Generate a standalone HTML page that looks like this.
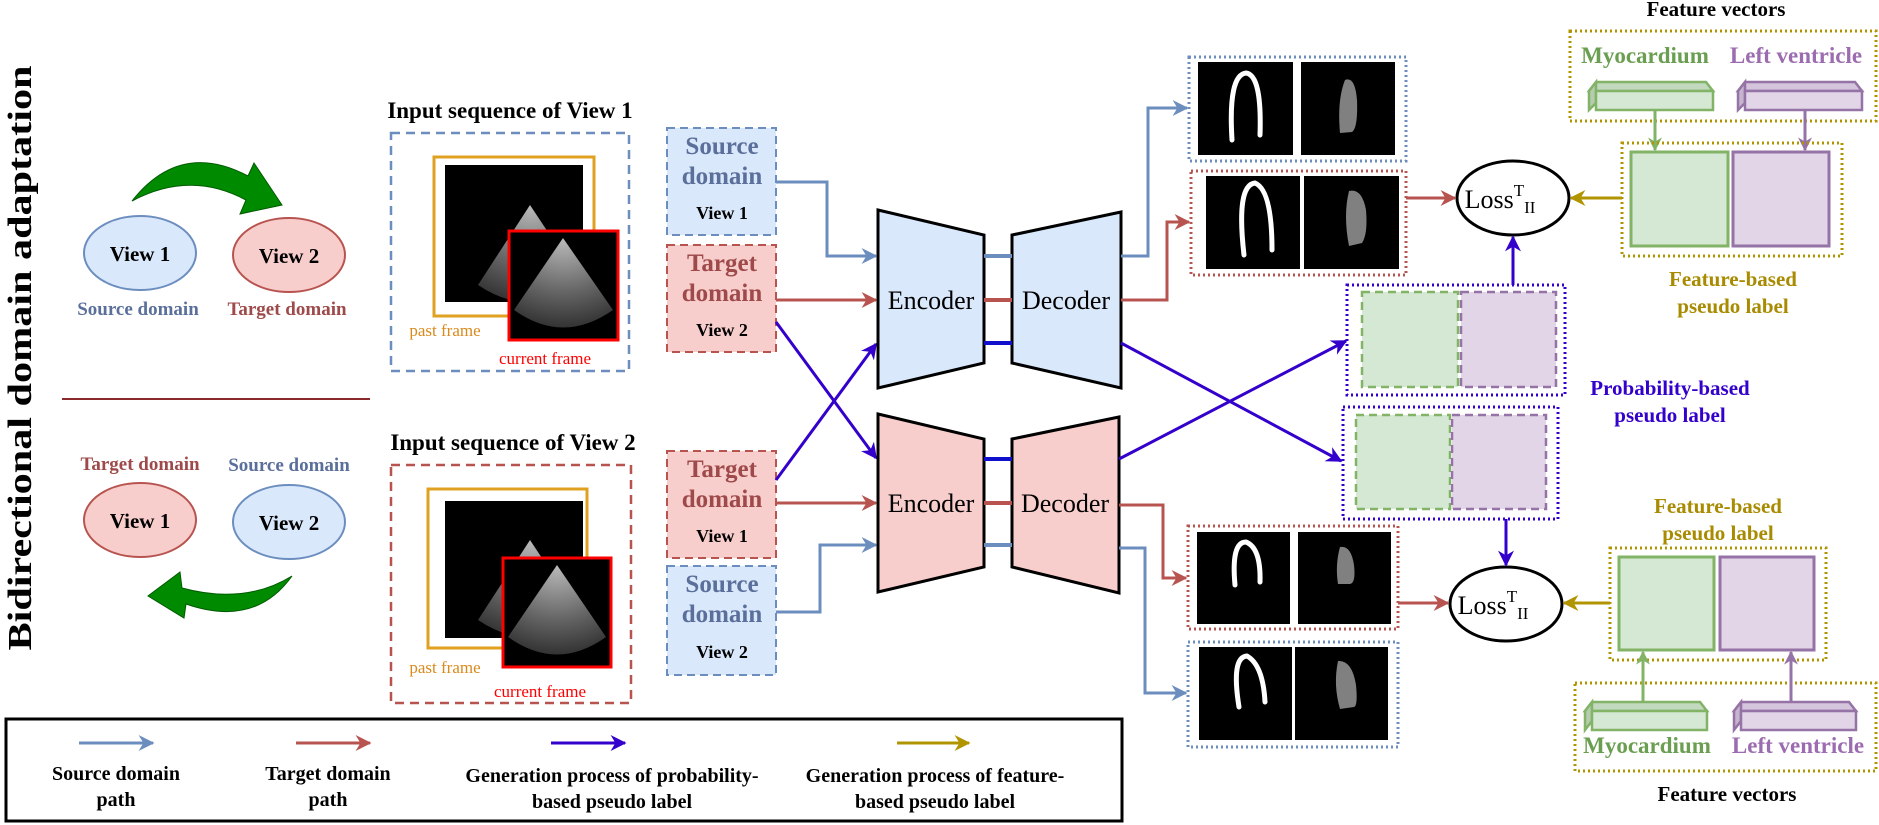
<!DOCTYPE html>
<html><head><meta charset="utf-8"><style>
html,body{margin:0;padding:0;background:#fff;}
svg{display:block;font-family:"Liberation Serif",serif;}
.b{font-weight:bold;}
</style></head><body>
<svg width="1879" height="825" viewBox="0 0 1879 825">
<defs>
<marker id="mb" markerWidth="8" markerHeight="8" refX="6" refY="4" orient="auto" markerUnits="userSpaceOnUse"><path d="M0,0 L8,4 L0,8 L2,4 Z" fill="#6c8ebf" transform="scale(1.8) translate(-2,-2)"/></marker>
<marker id="ah-b" viewBox="0 0 10 10" refX="9" refY="5" markerWidth="16" markerHeight="16" orient="auto" markerUnits="userSpaceOnUse"><path d="M0,0 L10,5 L0,10 L3,5 Z" fill="#6c8ebf"/></marker>
<marker id="ah-r" viewBox="0 0 10 10" refX="9" refY="5" markerWidth="16" markerHeight="16" orient="auto" markerUnits="userSpaceOnUse"><path d="M0,0 L10,5 L0,10 L3,5 Z" fill="#b85450"/></marker>
<marker id="ah-d" viewBox="0 0 10 10" refX="9" refY="5" markerWidth="16" markerHeight="16" orient="auto" markerUnits="userSpaceOnUse"><path d="M0,0 L10,5 L0,10 L3,5 Z" fill="#3300cc"/></marker>
<marker id="ah-g" viewBox="0 0 10 10" refX="9" refY="5" markerWidth="16" markerHeight="16" orient="auto" markerUnits="userSpaceOnUse"><path d="M0,0 L10,5 L0,10 L3,5 Z" fill="#b09500"/></marker>
<marker id="ah-gr" viewBox="0 0 10 10" refX="9" refY="5" markerWidth="14" markerHeight="14" orient="auto" markerUnits="userSpaceOnUse"><path d="M0,0 L10,5 L0,10 L3,5 Z" fill="#82b366"/></marker>
<marker id="ah-pu" viewBox="0 0 10 10" refX="9" refY="5" markerWidth="14" markerHeight="14" orient="auto" markerUnits="userSpaceOnUse"><path d="M0,0 L10,5 L0,10 L3,5 Z" fill="#9673a6"/></marker>
<radialGradient id="cone" cx="50%" cy="0%" r="100%"><stop offset="0" stop-color="#bbb"/><stop offset="0.6" stop-color="#666"/><stop offset="1" stop-color="#333"/></radialGradient>
</defs>

<!-- Left vertical title -->
<text class="b" transform="translate(31,358) rotate(-90)" text-anchor="middle" font-size="34" textLength="585" lengthAdjust="spacingAndGlyphs">Bidirectional domain adaptation</text>

<!-- top views -->
<path d="M132,201 Q180,140 248,176 L254,163 L282,205 L240,214 L246,200 Q190,170 132,201 Z" fill="#008a00" stroke="#005a00" stroke-width="1"/>
<ellipse cx="140" cy="253" rx="56" ry="37" fill="#dae8fc" stroke="#6c8ebf" stroke-width="2"/>
<text class="b" x="140" y="261" text-anchor="middle" font-size="21">View 1</text>
<ellipse cx="289" cy="255" rx="56" ry="37" fill="#f8cecc" stroke="#b85450" stroke-width="2"/>
<text class="b" x="289" y="263" text-anchor="middle" font-size="21">View 2</text>
<text class="b" x="138" y="315" text-anchor="middle" font-size="19" fill="#5a6f9a">Source domain</text>
<text class="b" x="287" y="315" text-anchor="middle" font-size="19" fill="#9e4a4a">Target domain</text>
<line x1="62" y1="399" x2="370" y2="399" stroke="#8b2a2a" stroke-width="2"/>
<text class="b" x="140" y="470" text-anchor="middle" font-size="19" fill="#9e4a4a">Target domain</text>
<text class="b" x="289" y="471" text-anchor="middle" font-size="19" fill="#5a6f9a">Source domain</text>
<ellipse cx="140" cy="520" rx="56" ry="37" fill="#f8cecc" stroke="#b85450" stroke-width="2"/>
<text class="b" x="140" y="528" text-anchor="middle" font-size="21">View 1</text>
<ellipse cx="289" cy="522" rx="56" ry="37" fill="#dae8fc" stroke="#6c8ebf" stroke-width="2"/>
<text class="b" x="289" y="530" text-anchor="middle" font-size="21">View 2</text>
<path d="M292,576 Q255,628 186,604 L184,618 L148,596 L180,572 L182,588 Q245,605 292,576 Z" fill="#008a00" stroke="#005a00" stroke-width="1"/>

<!-- Input sequence View 1 -->
<text class="b" x="510" y="118" text-anchor="middle" font-size="23">Input sequence of View 1</text>
<rect x="391" y="133" width="238" height="238" fill="none" stroke="#6c8ebf" stroke-width="2.5" stroke-dasharray="9,6"/>
<rect x="434" y="157" width="160" height="159" fill="none" stroke="#e0a020" stroke-width="3"/>
<g>
<rect x="462" y="165" width="121" height="110" fill="#000"/>
<rect x="458" y="172" width="121" height="110" fill="#000"/>
<rect x="454" y="179" width="121" height="110" fill="#000"/>
<rect x="450" y="186" width="121" height="110" fill="#000"/>
<rect x="445" y="165" width="110" height="137" fill="#000"/>
<path d="M530,205 L478,285 Q530,320 583,285 Z" fill="url(#cone)"/>
</g>
<rect x="509" y="231" width="109" height="109" fill="#000" stroke="#ff0000" stroke-width="3"/>
<path d="M563,238 L514,310 Q563,345 613,310 Z" fill="url(#cone)"/>
<text x="445" y="336" text-anchor="middle" font-size="17" fill="#d98a1c">past frame</text>
<text x="545" y="364" text-anchor="middle" font-size="17" fill="#ff0000">current frame</text>

<!-- Input sequence View 2 -->
<text class="b" x="513" y="450" text-anchor="middle" font-size="23">Input sequence of View 2</text>
<rect x="391" y="465" width="240" height="238" fill="none" stroke="#b85450" stroke-width="2.5" stroke-dasharray="9,6"/>
<rect x="428" y="489" width="159" height="159" fill="none" stroke="#e0a020" stroke-width="3"/>
<g>
<rect x="462" y="501" width="121" height="110" fill="#000"/>
<rect x="458" y="508" width="121" height="110" fill="#000"/>
<rect x="454" y="515" width="121" height="110" fill="#000"/>
<rect x="450" y="522" width="121" height="110" fill="#000"/>
<rect x="445" y="501" width="110" height="137" fill="#000"/>
<path d="M530,540 L478,620 Q530,655 583,620 Z" fill="url(#cone)"/>
</g>
<rect x="503" y="558" width="108" height="109" fill="#000" stroke="#ff0000" stroke-width="3"/>
<path d="M557,565 L508,637 Q557,672 606,637 Z" fill="url(#cone)"/>
<text x="445" y="673" text-anchor="middle" font-size="17" fill="#d98a1c">past frame</text>
<text x="540" y="697" text-anchor="middle" font-size="17" fill="#ff0000">current frame</text>

<!-- domain boxes -->
<g>
<rect x="667" y="128" width="109" height="107" fill="#dae8fc" stroke="#6c8ebf" stroke-width="2" stroke-dasharray="8,5"/>
<text class="b" x="722" y="154" text-anchor="middle" font-size="25" fill="#5a6f9a">Source</text>
<text class="b" x="722" y="184" text-anchor="middle" font-size="25" fill="#5a6f9a">domain</text>
<text class="b" x="722" y="219" text-anchor="middle" font-size="18">View 1</text>
</g>
<g>
<rect x="667" y="245" width="109" height="107" fill="#f8cecc" stroke="#b85450" stroke-width="2" stroke-dasharray="8,5"/>
<text class="b" x="722" y="271" text-anchor="middle" font-size="25" fill="#9e4a4a">Target</text>
<text class="b" x="722" y="301" text-anchor="middle" font-size="25" fill="#9e4a4a">domain</text>
<text class="b" x="722" y="336" text-anchor="middle" font-size="18">View 2</text>
</g>
<g>
<rect x="667" y="451" width="109" height="107" fill="#f8cecc" stroke="#b85450" stroke-width="2" stroke-dasharray="8,5"/>
<text class="b" x="722" y="477" text-anchor="middle" font-size="25" fill="#9e4a4a">Target</text>
<text class="b" x="722" y="507" text-anchor="middle" font-size="25" fill="#9e4a4a">domain</text>
<text class="b" x="722" y="542" text-anchor="middle" font-size="18">View 1</text>
</g>
<g>
<rect x="667" y="566" width="109" height="109" fill="#dae8fc" stroke="#6c8ebf" stroke-width="2" stroke-dasharray="8,5"/>
<text class="b" x="722" y="592" text-anchor="middle" font-size="25" fill="#5a6f9a">Source</text>
<text class="b" x="722" y="622" text-anchor="middle" font-size="25" fill="#5a6f9a">domain</text>
<text class="b" x="722" y="658" text-anchor="middle" font-size="18">View 2</text>
</g>

<!-- input arrows -->
<g fill="none" stroke-width="3">
<path d="M776,182 H827 V256 H876" stroke="#6c8ebf" marker-end="url(#ah-b)"/>
<path d="M776,300 H876" stroke="#b85450" marker-end="url(#ah-r)"/>
<path d="M776,322 L876,458" stroke="#3300cc" marker-end="url(#ah-d)"/>
<path d="M776,480 L876,344" stroke="#3300cc" marker-end="url(#ah-d)"/>
<path d="M776,503 H876" stroke="#b85450" marker-end="url(#ah-r)"/>
<path d="M776,612 H820 V545 H876" stroke="#6c8ebf" marker-end="url(#ah-b)"/>
</g>

<!-- encoder/decoder top -->
<polygon points="878,210 984,235 984,363 878,388" fill="#dae8fc" stroke="#000" stroke-width="3"/>
<text x="931" y="309" text-anchor="middle" font-size="26">Encoder</text>
<polygon points="1012,235 1121,212 1121,388 1012,363" fill="#dae8fc" stroke="#000" stroke-width="3"/>
<text x="1066" y="309" text-anchor="middle" font-size="26">Decoder</text>
<line x1="984" y1="256" x2="1012" y2="256" stroke="#6c8ebf" stroke-width="4"/>
<line x1="984" y1="300" x2="1012" y2="300" stroke="#b85450" stroke-width="4"/>
<line x1="984" y1="343" x2="1012" y2="343" stroke="#1010cc" stroke-width="4"/>
<!-- encoder/decoder bottom -->
<polygon points="878,414 984,439 984,567 878,592" fill="#f8cecc" stroke="#000" stroke-width="3"/>
<text x="931" y="512" text-anchor="middle" font-size="26">Encoder</text>
<polygon points="1012,439 1119,417 1119,593 1012,567" fill="#f8cecc" stroke="#000" stroke-width="3"/>
<text x="1065" y="512" text-anchor="middle" font-size="26">Decoder</text>
<line x1="984" y1="459" x2="1012" y2="459" stroke="#1010cc" stroke-width="4"/>
<line x1="984" y1="503" x2="1012" y2="503" stroke="#b85450" stroke-width="4"/>
<line x1="984" y1="545" x2="1012" y2="545" stroke="#6c8ebf" stroke-width="4"/>

<!-- decoder outputs -->
<g fill="none" stroke-width="3">
<path d="M1121,256 H1148 V108 H1187" stroke="#6c8ebf" marker-end="url(#ah-b)"/>
<path d="M1121,300 H1167 V222 H1189" stroke="#b85450" marker-end="url(#ah-r)"/>
<path d="M1121,343 L1341,461" stroke="#3300cc" marker-end="url(#ah-d)"/>
<path d="M1119,459 L1346,341" stroke="#3300cc" marker-end="url(#ah-d)"/>
<path d="M1119,505 H1163 V578 H1186" stroke="#b85450" marker-end="url(#ah-r)"/>
<path d="M1119,548 H1145 V693 H1186" stroke="#6c8ebf" marker-end="url(#ah-b)"/>
</g>

<!-- seg boxes -->
<g>
<rect x="1189" y="57" width="217" height="104" fill="none" stroke="#6c8ebf" stroke-width="3" stroke-dasharray="2,3"/>
<rect x="1198" y="62" width="95" height="93" fill="#000"/><rect x="1301" y="62" width="94" height="93" fill="#000"/>
<path d="M1232,140 Q1228,75 1246,73 Q1262,75 1260,135" fill="none" stroke="#fff" stroke-width="5" stroke-linecap="round"/>
<path d="M1345,80 Q1355,76 1357,100 Q1358,128 1352,132 L1340,133 Q1337,100 1345,80 Z" fill="#808080"/>
</g>
<g>
<rect x="1191" y="171" width="215" height="104" fill="none" stroke="#b85450" stroke-width="3" stroke-dasharray="2,3"/>
<rect x="1206" y="176" width="94" height="93" fill="#000"/><rect x="1304" y="176" width="95" height="93" fill="#000"/>
<path d="M1244,255 Q1236,185 1255,183 Q1272,190 1272,250" fill="none" stroke="#fff" stroke-width="5" stroke-linecap="round"/>
<path d="M1349,191 Q1362,188 1366,210 Q1368,234 1362,243 L1349,246 Q1343,215 1349,191 Z" fill="#808080"/>
</g>
<g>
<rect x="1188" y="526" width="210" height="103" fill="none" stroke="#b85450" stroke-width="3" stroke-dasharray="2,3"/>
<rect x="1197" y="532" width="93" height="92" fill="#000"/><rect x="1298" y="532" width="93" height="92" fill="#000"/>
<path d="M1235,585 Q1231,542 1246,542 Q1261,548 1260,582" fill="none" stroke="#fff" stroke-width="5" stroke-linecap="round"/>
<path d="M1340,547 Q1351,545 1354,565 Q1356,583 1350,584 L1338,584 Q1335,565 1340,547 Z" fill="#808080"/>
</g>
<g>
<rect x="1188" y="642" width="210" height="105" fill="none" stroke="#6c8ebf" stroke-width="3" stroke-dasharray="2,3"/>
<rect x="1199" y="647" width="93" height="93" fill="#000"/><rect x="1295" y="647" width="93" height="93" fill="#000"/>
<path d="M1239,707 Q1231,657 1247,656 Q1263,665 1265,702" fill="none" stroke="#fff" stroke-width="5" stroke-linecap="round"/>
<path d="M1338,661 Q1352,660 1356,685 Q1358,706 1354,707 L1340,709 Q1333,685 1338,661 Z" fill="#808080"/>
</g>

<!-- prob boxes -->
<g>
<rect x="1347" y="285" width="218" height="110" fill="none" stroke="#3300cc" stroke-width="3" stroke-dasharray="2,3"/>
<rect x="1362" y="292" width="96" height="95" fill="#d5e8d4" stroke="#82b366" stroke-width="2.5" stroke-dasharray="8,5"/>
<rect x="1461" y="292" width="95" height="95" fill="#e1d5e7" stroke="#9673a6" stroke-width="2.5" stroke-dasharray="8,5"/>
</g>
<g>
<rect x="1343" y="407" width="215" height="112" fill="none" stroke="#3300cc" stroke-width="3" stroke-dasharray="2,3"/>
<rect x="1356" y="415" width="94" height="94" fill="#d5e8d4" stroke="#82b366" stroke-width="2.5" stroke-dasharray="8,5"/>
<rect x="1452" y="415" width="94" height="94" fill="#e1d5e7" stroke="#9673a6" stroke-width="2.5" stroke-dasharray="8,5"/>
</g>
<text x="1670" y="395" text-anchor="middle" font-size="21" fill="#3300cc" class="b">Probability-based</text>
<text x="1670" y="422" text-anchor="middle" font-size="21" fill="#3300cc" class="b">pseudo label</text>

<!-- loss -->
<ellipse cx="1513" cy="198" rx="56" ry="37" fill="#fff" stroke="#000" stroke-width="3"/>
<text x="1500" y="208" text-anchor="middle" font-size="26">Loss<tspan font-size="17" dy="-12">T</tspan><tspan font-size="17" dy="17">II</tspan></text>
<ellipse cx="1506" cy="604" rx="56" ry="37" fill="#fff" stroke="#000" stroke-width="3"/>
<text x="1493" y="614" text-anchor="middle" font-size="26">Loss<tspan font-size="17" dy="-12">T</tspan><tspan font-size="17" dy="17">II</tspan></text>
<g fill="none" stroke-width="3">
<path d="M1406,198 H1455" stroke="#b85450" marker-end="url(#ah-r)"/>
<path d="M1398,603 H1448" stroke="#b85450" marker-end="url(#ah-r)"/>
<path d="M1513,285 V237" stroke="#3300cc" marker-end="url(#ah-d)"/>
<path d="M1506,519 V565" stroke="#3300cc" marker-end="url(#ah-d)"/>
<path d="M1622,198 H1571" stroke="#b09500" marker-end="url(#ah-g)"/>
<path d="M1610,603 H1564" stroke="#b09500" marker-end="url(#ah-g)"/>
</g>

<!-- feature top -->
<text class="b" x="1716" y="16" text-anchor="middle" font-size="21">Feature vectors</text>
<rect x="1570" y="31" width="306" height="90" fill="none" stroke="#b09500" stroke-width="3" stroke-dasharray="2,3"/>
<text class="b" x="1645" y="63" text-anchor="middle" font-size="23" fill="#6a9e50">Myocardium</text>
<text class="b" x="1796" y="63" text-anchor="middle" font-size="23" fill="#9c6cb0">Left ventricle</text>
<g>
<polygon points="1589,91 1596,82 1706,82 1713,91" fill="#c3d9bf" stroke="#82b366" stroke-width="2.5"/>
<polygon points="1589,91 1596,82 1596,103 1589,110" fill="#b5ccb1" stroke="#82b366" stroke-width="2.5"/>
<rect x="1596" y="91" width="117" height="19" fill="#d5e8d4" stroke="#82b366" stroke-width="2.5"/>
</g>
<g>
<polygon points="1738,91 1745,82 1855,82 1862,91" fill="#d4c4dc" stroke="#9673a6" stroke-width="2.5"/>
<polygon points="1738,91 1745,82 1745,103 1738,110" fill="#c6b5cf" stroke="#9673a6" stroke-width="2.5"/>
<rect x="1745" y="91" width="117" height="19" fill="#e1d5e7" stroke="#9673a6" stroke-width="2.5"/>
</g>
<path d="M1655,110 V150" stroke="#82b366" stroke-width="3" marker-end="url(#ah-gr)"/>
<path d="M1805,110 V150" stroke="#9673a6" stroke-width="3" marker-end="url(#ah-pu)"/>
<rect x="1622" y="143" width="220" height="113" fill="none" stroke="#b09500" stroke-width="3" stroke-dasharray="2,3"/>
<rect x="1631" y="152" width="97" height="94" fill="#d5e8d4" stroke="#82b366" stroke-width="3"/>
<rect x="1733" y="152" width="96" height="94" fill="#e1d5e7" stroke="#9673a6" stroke-width="3"/>
<text class="b" x="1733" y="286" text-anchor="middle" font-size="21" fill="#a88b00">Feature-based</text>
<text class="b" x="1733" y="313" text-anchor="middle" font-size="21" fill="#a88b00">pseudo label</text>

<!-- feature bottom -->
<text class="b" x="1718" y="513" text-anchor="middle" font-size="21" fill="#a88b00">Feature-based</text>
<text class="b" x="1718" y="540" text-anchor="middle" font-size="21" fill="#a88b00">pseudo label</text>
<rect x="1610" y="548" width="216" height="112" fill="none" stroke="#b09500" stroke-width="3" stroke-dasharray="2,3"/>
<rect x="1619" y="557" width="95" height="93" fill="#d5e8d4" stroke="#82b366" stroke-width="3"/>
<rect x="1720" y="557" width="94" height="93" fill="#e1d5e7" stroke="#9673a6" stroke-width="3"/>
<rect x="1575" y="683" width="301" height="88" fill="none" stroke="#b09500" stroke-width="3" stroke-dasharray="2,3"/>
<g>
<polygon points="1585,711 1592,702 1700,702 1707,711" fill="#c3d9bf" stroke="#82b366" stroke-width="2.5"/>
<polygon points="1585,711 1592,702 1592,721 1585,730" fill="#b5ccb1" stroke="#82b366" stroke-width="2.5"/>
<rect x="1592" y="711" width="115" height="19" fill="#d5e8d4" stroke="#82b366" stroke-width="2.5"/>
</g>
<g>
<polygon points="1734,711 1741,702 1849,702 1856,711" fill="#d4c4dc" stroke="#9673a6" stroke-width="2.5"/>
<polygon points="1734,711 1741,702 1741,721 1734,730" fill="#c6b5cf" stroke="#9673a6" stroke-width="2.5"/>
<rect x="1741" y="711" width="115" height="19" fill="#e1d5e7" stroke="#9673a6" stroke-width="2.5"/>
</g>
<path d="M1643,702 V652" stroke="#82b366" stroke-width="3" marker-end="url(#ah-gr)"/>
<path d="M1791,702 V652" stroke="#9673a6" stroke-width="3" marker-end="url(#ah-pu)"/>
<text class="b" x="1647" y="753" text-anchor="middle" font-size="23" fill="#6a9e50">Myocardium</text>
<text class="b" x="1798" y="753" text-anchor="middle" font-size="23" fill="#9c6cb0">Left ventricle</text>
<text class="b" x="1727" y="801" text-anchor="middle" font-size="21">Feature vectors</text>

<!-- legend -->
<g>
<rect x="6" y="719" width="1116" height="102" fill="#fff" stroke="#000" stroke-width="3"/>
<path d="M79,743 H153" stroke="#6c8ebf" stroke-width="3" marker-end="url(#ah-b)"/>
<path d="M296,743 H370" stroke="#b85450" stroke-width="3" marker-end="url(#ah-r)"/>
<path d="M551,743 H625" stroke="#3300cc" stroke-width="3" marker-end="url(#ah-d)"/>
<path d="M897,743 H969" stroke="#b09500" stroke-width="3" marker-end="url(#ah-g)"/>
<text class="b" x="116" y="780" text-anchor="middle" font-size="20">Source domain</text>
<text class="b" x="116" y="806" text-anchor="middle" font-size="20">path</text>
<text class="b" x="328" y="780" text-anchor="middle" font-size="20">Target domain</text>
<text class="b" x="328" y="806" text-anchor="middle" font-size="20">path</text>
<text class="b" x="612" y="782" text-anchor="middle" font-size="20">Generation process of probability-</text>
<text class="b" x="612" y="808" text-anchor="middle" font-size="20">based pseudo label</text>
<text class="b" x="935" y="782" text-anchor="middle" font-size="20">Generation process of feature-</text>
<text class="b" x="935" y="808" text-anchor="middle" font-size="20">based pseudo label</text>
</g>
</svg>
</body></html>
